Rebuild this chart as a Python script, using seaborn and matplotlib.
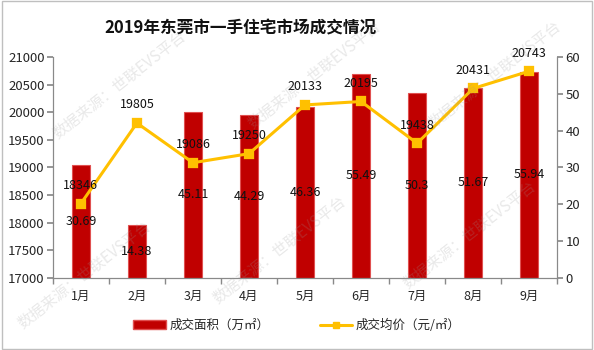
import numpy as np
import pandas as pd
import seaborn as sns
import matplotlib.pyplot as plt
from matplotlib.patches import Patch, Rectangle
from matplotlib.lines import Line2D

months = ["1月", "2月", "3月", "4月", "5月", "6月", "7月", "8月", "9月"]
area = [30.69, 14.38, 45.11, 44.29, 46.36, 55.49, 50.3, 51.67, 55.94]
price = [18346, 19805, 19086, 19250, 20133, 20195, 19438, 20431, 20743]

BAR_C = "#C00000"
LINE_C = "#FFC000"

sns.set_theme(style="white")
plt.rcParams["font.family"] = ["Noto Sans CJK SC", "DejaVu Sans"]

df = pd.DataFrame({"month": months, "area": area, "price": price})

fig = plt.figure(figsize=(5.94, 3.5), dpi=100)
ax = fig.add_axes([0.089, 0.206, 0.849, 0.631])
ax2 = ax.twinx()

# bars on the right axis, drawn behind the line
sns.barplot(data=df, x="month", y="area", ax=ax2, color=BAR_C, width=0.32,
            saturation=1, edgecolor="#E05050", linewidth=0.8)
ax.set_zorder(ax2.get_zorder() + 1)
ax.patch.set_visible(False)

sns.pointplot(data=df, x="month", y="price", ax=ax, color=LINE_C,
              markers="s", markersize=5.5, linewidth=2.2)

ax.set_xlim(-0.5, 8.5)
ax.set_ylim(17000, 21000)
ax.set_yticks(np.arange(17000, 21001, 500))
ax2.set_ylim(0, 60)
ax2.set_yticks(np.arange(0, 61, 10))
ax.set_xlabel("")
ax.set_ylabel("")
ax2.set_xlabel("")
ax2.set_ylabel("")

for a in (ax, ax2):
    for s in a.spines.values():
        s.set_color("#898989")
        s.set_linewidth(0.8)
    a.spines["top"].set_visible(False)

ax.tick_params(axis="y", left=True, length=4, color="#898989", labelsize=9.5, pad=2)
ax2.tick_params(axis="y", right=True, length=4, color="#898989", labelsize=9.5, pad=2)
ax.set_xticks(np.arange(-0.5, 9, 1), minor=True)
ax.tick_params(axis="x", which="major", length=0, labelsize=9, pad=9)
ax.tick_params(axis="x", which="minor", bottom=True, length=4, color="#898989")
ax2.tick_params(axis="x", length=0)

for i, v in enumerate(area):
    ax2.text(i, v / 2, f"{v:g}", ha="center", va="center", fontsize=9, color="#111111")
for i, v in enumerate(price):
    ax.annotate(str(v), (i, v), xytext=(0, 13), textcoords="offset points",
                ha="center", va="center", fontsize=9, color="#111111")

fig.text(0.405, 0.92, "2019年东莞市一手住宅市场成交情况", ha="center", va="center",
         fontsize=12, fontweight="bold", color="#111111")

handles = [Patch(facecolor=BAR_C, edgecolor="#E05050"),
           Line2D([0], [0], color=LINE_C, lw=2.2, marker="s", markersize=5)]
fig.legend(handles, ["成交面积（万㎡）", "成交均价（元/㎡）"], loc="center",
           bbox_to_anchor=(0.5, 0.07), ncol=2, frameon=False, fontsize=9,
           handlelength=2.6, columnspacing=4, handletextpad=0.3)

# watermark
wm = "数据来源：世联EVS平台"
for x, y in [(120, 85), (315, 75), (495, 75), (85, 275), (280, 250), (470, 235)]:
    fig.text(x / 594, 1 - y / 350, wm, rotation=38, ha="center", va="center",
             fontsize=11, color="#999999", alpha=0.22)

fig.patches.append(Rectangle((0.003, 0.004), 0.994, 0.992, transform=fig.transFigure,
                             fill=False, edgecolor="#bfbfbf", linewidth=1))

fig.savefig("out.png", dpi=100)
